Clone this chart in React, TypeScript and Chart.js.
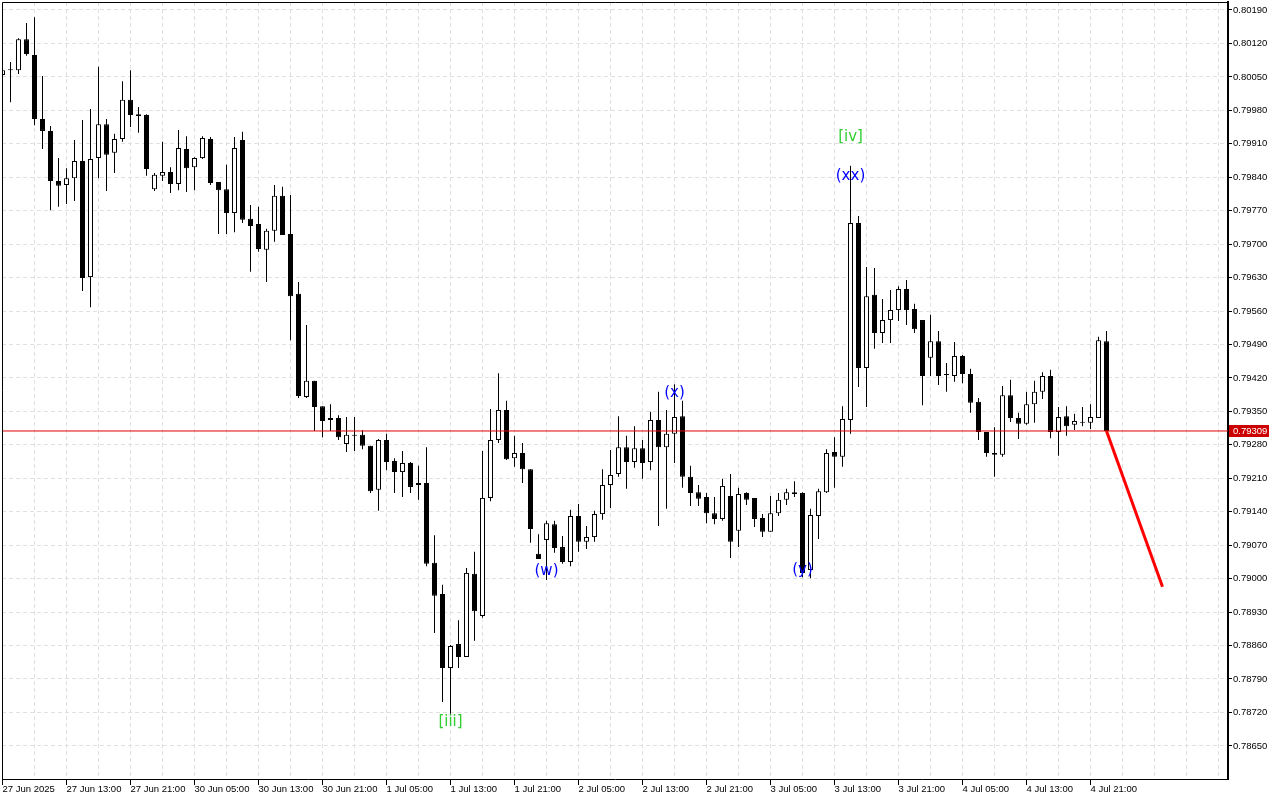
import React, { useEffect, useRef } from "react";
import { Chart, registerables } from "chart.js";

Chart.register(...registerables);

// X axis labels, one every 8 hourly bars (bar index 0, 8, 16, ...)
const xTickLabels: string[] = [
  "27 Jun 2025", "27 Jun 13:00", "27 Jun 21:00", "30 Jun 05:00", "30 Jun 13:00", "30 Jun 21:00",
  "1 Jul 05:00", "1 Jul 13:00", "1 Jul 21:00", "2 Jul 05:00", "2 Jul 13:00", "2 Jul 21:00",
  "3 Jul 05:00", "3 Jul 13:00", "3 Jul 21:00", "4 Jul 05:00", "4 Jul 13:00", "4 Jul 21:00",
];

const yTickValues: number[] = [
  0.7865, 0.7872, 0.7879, 0.7886, 0.7893, 0.79, 0.7907, 0.7914, 0.7921, 0.7928, 0.7935, 0.7942,
  0.7949, 0.7956, 0.7963, 0.797, 0.7977, 0.7984, 0.7991, 0.7998, 0.8005, 0.8012, 0.8019,
];

const openP: number[] = [
  0.80054, 0.80064, 0.80064, 0.80129, 0.80096, 0.79962, 0.79937, 0.79832, 0.79824, 0.79838,
  0.79874, 0.79631, 0.7988, 0.79951, 0.79891, 0.7992, 0.80002, 0.79972, 0.7997, 0.79815,
  0.79843, 0.79851, 0.79826, 0.79899, 0.79861, 0.7988, 0.7992, 0.7983, 0.79815, 0.79765,
  0.79918, 0.79753, 0.79742, 0.79688, 0.79728, 0.79801, 0.79721, 0.79596, 0.7938, 0.79414,
  0.79361, 0.79332, 0.79336, 0.79282, 0.79299, 0.79301, 0.79278, 0.79186, 0.7929, 0.79246,
  0.79223, 0.79242, 0.79196, 0.792, 0.79033, 0.78968, 0.78813, 0.78863, 0.78836, 0.7901,
  0.78922, 0.79169, 0.7929, 0.79353, 0.79252, 0.79263, 0.79229, 0.79052, 0.79081, 0.79114,
  0.79066, 0.79035, 0.79131, 0.79077, 0.79087, 0.79135, 0.79196, 0.79219, 0.79275, 0.79244,
  0.79273, 0.79244, 0.79332, 0.79275, 0.79303, 0.7934, 0.79213, 0.79181, 0.79171, 0.79137,
  0.79125, 0.79173, 0.791, 0.79179, 0.79169, 0.79127, 0.79098, 0.79137, 0.79165, 0.79181,
  0.79179, 0.79018, 0.79131, 0.79181, 0.79265, 0.79255, 0.79332, 0.79744, 0.79441, 0.79594,
  0.79514, 0.79541, 0.79562, 0.79606, 0.79564, 0.79541, 0.79462, 0.79497, 0.79426, 0.79424,
  0.79466, 0.79428, 0.7937, 0.79307, 0.79263, 0.79259, 0.79384, 0.79336, 0.79324, 0.79365,
  0.79391, 0.79424, 0.79307, 0.7934, 0.79322, 0.79328, 0.79326, 0.79336, 0.79497,
];

const highP: number[] = [
  0.80067, 0.80081, 0.80131, 0.80163, 0.80175, 0.80052, 0.79947, 0.7988, 0.79859, 0.79918,
  0.7996, 0.79983, 0.80071, 0.79962, 0.79931, 0.80041, 0.80064, 0.79987, 0.79972, 0.79849,
  0.79914, 0.79861, 0.79939, 0.79926, 0.79882, 0.79926, 0.79924, 0.7983, 0.79866, 0.79924,
  0.79935, 0.79782, 0.79778, 0.79732, 0.79824, 0.7982, 0.79803, 0.79621, 0.79531, 0.79414,
  0.79361, 0.79365, 0.79342, 0.79338, 0.79338, 0.79311, 0.79278, 0.79292, 0.79303, 0.79252,
  0.79267, 0.79244, 0.79236, 0.79275, 0.79091, 0.78987, 0.78861, 0.78913, 0.79022, 0.79056,
  0.79267, 0.79355, 0.7943, 0.79372, 0.79299, 0.79284, 0.79229, 0.79093, 0.79121, 0.79121,
  0.79089, 0.79144, 0.79156, 0.7911, 0.79142, 0.79229, 0.79269, 0.7934, 0.79299, 0.79319,
  0.7929, 0.79349, 0.79391, 0.79353, 0.79407, 0.79372, 0.79236, 0.79196, 0.79179, 0.79171,
  0.79209, 0.79219, 0.7919, 0.79181, 0.79169, 0.79135, 0.79173, 0.79179, 0.79188, 0.79204,
  0.79181, 0.79146, 0.79188, 0.79271, 0.79296, 0.79361, 0.79864, 0.79759, 0.79652, 0.7965,
  0.79585, 0.79604, 0.79612, 0.79625, 0.79575, 0.79541, 0.79552, 0.79518, 0.79451, 0.79495,
  0.79468, 0.79439, 0.79378, 0.79307, 0.79317, 0.79403, 0.79416, 0.79347, 0.79391, 0.79414,
  0.79432, 0.79437, 0.79359, 0.79361, 0.79345, 0.79359, 0.79365, 0.79506, 0.79518,
];

const lowP: number[] = [
  0.80052, 0.79997, 0.80056, 0.80094, 0.79949, 0.79899, 0.79771, 0.79778, 0.79784, 0.7979,
  0.79602, 0.79568, 0.79838, 0.79811, 0.79849, 0.79914, 0.79945, 0.79933, 0.79843, 0.79811,
  0.79832, 0.79807, 0.79813, 0.79809, 0.79813, 0.79878, 0.79824, 0.79721, 0.79721, 0.79725,
  0.79744, 0.79642, 0.79684, 0.79621, 0.79705, 0.79719, 0.79499, 0.79378, 0.79378, 0.79309,
  0.79296, 0.79309, 0.7929, 0.79265, 0.79267, 0.79271, 0.79179, 0.79142, 0.79227, 0.79179,
  0.79171, 0.79179, 0.79165, 0.79026, 0.78886, 0.78742, 0.78717, 0.78813, 0.78836, 0.7887,
  0.78918, 0.79162, 0.79284, 0.79248, 0.79234, 0.792, 0.79075, 0.79041, 0.78997, 0.79054,
  0.79031, 0.79026, 0.79056, 0.79062, 0.79077, 0.79123, 0.79148, 0.79213, 0.79188, 0.79232,
  0.79209, 0.79227, 0.7911, 0.79146, 0.79242, 0.7919, 0.79152, 0.79152, 0.79116, 0.79114,
  0.79121, 0.79043, 0.79066, 0.79154, 0.79108, 0.79087, 0.79098, 0.79131, 0.79154, 0.79171,
  0.79003, 0.79001, 0.79083, 0.79179, 0.7919, 0.79234, 0.79303, 0.79401, 0.79359, 0.79481,
  0.79493, 0.79493, 0.79539, 0.79531, 0.79514, 0.79363, 0.79424, 0.79405, 0.79391, 0.79412,
  0.79409, 0.79347, 0.7929, 0.79255, 0.79213, 0.79255, 0.79328, 0.79292, 0.79322, 0.79326,
  0.79376, 0.79294, 0.79257, 0.79299, 0.79311, 0.79319, 0.79313, 0.79336, 0.79309,
];

const closeP: number[] = [
  0.80064, 0.80064, 0.80129, 0.80098, 0.79962, 0.79937, 0.79832, 0.79822, 0.79838, 0.79874,
  0.79629, 0.79878, 0.79951, 0.79887, 0.7992, 0.80002, 0.7997, 0.79968, 0.79857, 0.79845,
  0.79851, 0.79826, 0.79901, 0.79859, 0.7988, 0.79922, 0.79828, 0.79813, 0.79765, 0.79901,
  0.79751, 0.79738, 0.7969, 0.79728, 0.79801, 0.79719, 0.79591, 0.79382, 0.79414, 0.79359,
  0.7933, 0.79336, 0.79296, 0.79301, 0.79299, 0.79278, 0.79183, 0.7929, 0.79244, 0.79223,
  0.79242, 0.79192, 0.792, 0.79031, 0.78964, 0.78813, 0.78859, 0.78836, 0.79012, 0.78932,
  0.79169, 0.7929, 0.79353, 0.7925, 0.79263, 0.79229, 0.79104, 0.79041, 0.79116, 0.79064,
  0.79035, 0.79131, 0.79077, 0.79087, 0.79135, 0.79196, 0.79217, 0.79275, 0.79244, 0.79273,
  0.79242, 0.79332, 0.79275, 0.79303, 0.79338, 0.79213, 0.79179, 0.79167, 0.79137, 0.79125,
  0.79194, 0.79077, 0.79177, 0.79165, 0.79125, 0.79098, 0.79137, 0.79165, 0.79181, 0.79177,
  0.79012, 0.79133, 0.79183, 0.79263, 0.79255, 0.79334, 0.79744, 0.79441, 0.79591, 0.79514,
  0.79541, 0.79562, 0.79606, 0.79562, 0.79522, 0.79424, 0.79497, 0.79424, 0.79426, 0.79466,
  0.79428, 0.79368, 0.79307, 0.79263, 0.79259, 0.79384, 0.79336, 0.79324, 0.79365, 0.79391,
  0.79424, 0.79307, 0.79338, 0.79319, 0.7933, 0.79326, 0.79338, 0.79499, 0.79309,
];

const currentPrice = 0.79309;
const forecastIndex: number[] = [138, 145];
const forecastPrice: number[] = [0.79309, 0.78983];

const waveText: string[] = ["[iii]", "(w)", "(x)", "(y)", "(xx)", "[iv]"];
const waveIndex: number[] = [56, 68, 84, 100, 106, 106];
const wavePrice: number[] = [0.787, 0.79016, 0.79389, 0.79018, 0.79843, 0.79924];
const waveColor: string[] = ["#32cd32", "#0000ff", "#0000ff", "#0000ff", "#0000ff", "#32cd32"];

const X_MIN = -0.0625;
const X_MAX = 153.1875;
const Y_MIN = 0.785807;
const Y_MAX = 0.802067;
const LAST_LABELLED = 136;

const gridTicksX: number[] = Array.from({ length: 39 }, (_, i) => i * 4);

const AXIS_FONT = "Liberation Sans";
const AXIS_SIZE = 9.5;

export default function App() {
  const ref = useRef<HTMLCanvasElement>(null);

  useEffect(() => {
    document.body.style.margin = "0";
    const idx = openP.map((_, i) => i);
    const bodyData = idx.map((i) => ({ x: i, y: [openP[i], closeP[i]] }));
    const wickData = idx.map((i) => ({ x: i, y: [lowP[i], highP[i]] }));
    const bodyColors = idx.map((i) => (closeP[i] >= openP[i] ? "#ffffff" : "#000000"));

    const overlayPlugin = {
      id: "overlay",
      afterDatasetsDraw(chart: any) {
        const { ctx, scales } = chart;
        const xs = scales.x;
        const ys = scales.y;
        ctx.save();
        ctx.font = '15px "DejaVu Sans"';
        ctx.textAlign = "center";
        ctx.textBaseline = "middle";
        waveText.forEach((t, i) => {
          ctx.fillStyle = waveColor[i];
          ctx.fillText(t, xs.getPixelForValue(waveIndex[i]), ys.getPixelForValue(wavePrice[i]));
        });
        ctx.restore();
      },
      afterDraw(chart: any) {
        const { ctx, chartArea, scales } = chart;
        const ys = scales.y;
        ctx.save();
        ctx.strokeStyle = "#000";
        ctx.lineWidth = 1;
        ctx.beginPath();
        ctx.moveTo(chartArea.left + 0.5, chartArea.bottom);
        ctx.lineTo(chartArea.left + 0.5, chartArea.top + 0.5);
        ctx.lineTo(chartArea.right, chartArea.top + 0.5);
        ctx.stroke();
        const py = Math.round(ys.getPixelForValue(currentPrice));
        ctx.fillStyle = "#cc0000";
        ctx.fillRect(chartArea.right + 1, py - 6, 40, 12);
        ctx.fillStyle = "#ffffff";
        ctx.font = `${AXIS_SIZE}px "${AXIS_FONT}"`;
        ctx.textAlign = "left";
        ctx.textBaseline = "middle";
        ctx.fillText(currentPrice.toFixed(5), chartArea.right + 5, py);
        ctx.restore();
      },
    };

    const chart = new Chart(ref.current as HTMLCanvasElement, {
      type: "bar",
      data: {
        datasets: [
          {
            type: "line",
            data: [
              { x: -1, y: currentPrice },
              { x: 160, y: currentPrice },
            ],
            borderColor: "#e00000",
            borderWidth: 1,
            pointRadius: 0,
            order: 0,
          } as any,
          {
            type: "line",
            data: forecastIndex.map((k, i) => ({ x: k, y: forecastPrice[i] })),
            borderColor: "#ff0000",
            borderWidth: 3,
            pointRadius: 0,
            order: 0,
          } as any,
          {
            type: "bar",
            data: bodyData,
            backgroundColor: bodyColors,
            borderColor: "#000000",
            borderWidth: 1,
            borderSkipped: false,
            barThickness: 5,
            grouped: false,
            minBarLength: 1,
            inflateAmount: 0,
            order: 1,
          } as any,
          {
            type: "bar",
            data: wickData,
            backgroundColor: "#000000",
            borderWidth: 0,
            barThickness: 1,
            grouped: false,
            inflateAmount: 0,
            order: 2,
          } as any,
        ],
      },
      options: {
        responsive: false,
        animation: false,
        events: [],
        layout: { padding: { left: 2, top: 2, right: 0, bottom: 0 } },
        plugins: { legend: { display: false }, tooltip: { enabled: false } },
        elements: { line: { tension: 0 } },
        scales: {
          x: {
            type: "linear",
            min: X_MIN,
            max: X_MAX,
            offset: false,
            afterBuildTicks: (scale: any) => {
              scale.ticks = gridTicksX.map((v) => ({ value: v }));
            },
            afterFit: (scale: any) => {
              scale.height = 21;
              scale.paddingLeft = 0;
              scale.paddingRight = 0;
            },
            grid: {
              offset: false,
              color: "#e0e0e0",
              lineWidth: 1,
              tickLength: 6,
              tickWidth: 1,
              tickBorderDash: [],
              tickColor: (c: any) => {
                const k = c.tick ? Math.round(c.tick.value) : -1;
                return k % 8 === 0 && k <= LAST_LABELLED ? "#000000" : "rgba(0,0,0,0)";
              },
            },
            border: { display: true, color: "#000000", width: 1, dash: [4, 3] },
            ticks: {
              autoSkip: false,
              maxRotation: 0,
              minRotation: 0,
              align: "start",
              padding: -1,
              color: "#000000",
              font: { family: AXIS_FONT, size: AXIS_SIZE },
              callback: (v: any) => {
                const k = Math.round(Number(v));
                return k % 8 === 0 && xTickLabels[k / 8] ? xTickLabels[k / 8] : "";
              },
            },
          },
          y: {
            type: "linear",
            position: "right",
            min: Y_MIN,
            max: Y_MAX,
            afterBuildTicks: (scale: any) => {
              scale.ticks = yTickValues.map((v) => ({ value: v }));
            },
            afterFit: (scale: any) => {
              scale.width = 52;
              scale.paddingTop = 0;
              scale.paddingBottom = 0;
            },
            grid: {
              color: "#e0e0e0",
              lineWidth: 1,
              tickLength: 4,
              tickColor: "#000000",
              tickBorderDash: [],
            },
            border: { display: true, color: "#000000", width: 2, dash: [4, 3] },
            ticks: {
              autoSkip: false,
              padding: 1,
              color: "#000000",
              font: { family: AXIS_FONT, size: AXIS_SIZE },
              callback: (v: any) => Number(v).toFixed(5),
            },
          },
        },
      } as any,
      plugins: [overlayPlugin],
    });
    return () => chart.destroy();
  }, []);

  return (
    <div style={{ width: 1280, height: 800 }}>
      <canvas ref={ref} width={1280} height={800} style={{ display: "block" }} />
    </div>
  );
}
